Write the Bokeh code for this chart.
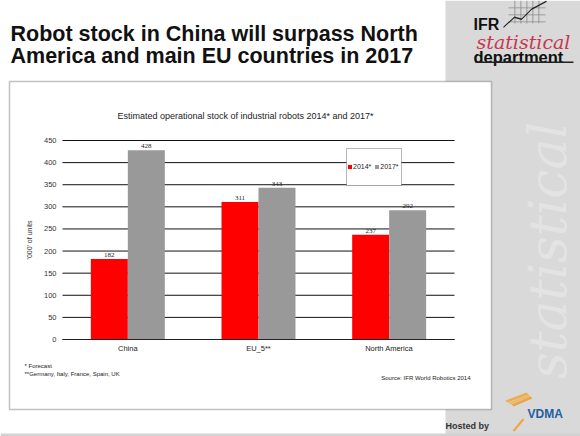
from bokeh.plotting import figure
from bokeh.models import (ColumnDataSource, FixedTicker, Label, LabelSet, LinearAxis,
                          BoxAnnotation, Legend, LegendItem, PolyAnnotation, Range1d)
from bokeh.embed import file_html
from bokeh.resources import INLINE
import math

# ---- data ----
categories = ["China", "EU_5**", "North America"]
stock_2014 = [182, 311, 237]
stock_2017 = [428, 343, 292]
y_ticks = [0, 50, 100, 150, 200, 250, 300, 350, 400, 450]
series_names = ["2014*", "2017*"]

FONT = "Liberation Sans"

# ---- page geometry (pixels) ----
W, H = 580, 436
PL, PR, PT, PB = 62, 454, 140, 339          # chart plotting area on the page
n = len(categories)
ymax = y_ticks[-1]
ppx = (PR - PL) / n                          # pixels per category
ppy = (PB - PT) / ymax                       # pixels per unit
x_range = Range1d(-PL / ppx, n + (W - PR) / ppx)
y_range = Range1d(-(H - PB) / ppy, ymax + PT / ppy)

BAR_W = 0.283
centers = [i + 0.5 for i in range(n)]
src = ColumnDataSource(dict(
    xc=centers,
    x14=[c - BAR_W / 2 for c in centers],
    x17=[c + BAR_W / 2 for c in centers],
    v14=stock_2014,
    v17=stock_2017,
    t14=[str(v) for v in stock_2014],
    t17=[str(v) for v in stock_2017],
))

p = figure(width=W, height=H, x_range=x_range, y_range=y_range,
           output_backend="svg", toolbar_location=None, x_axis_location=None,
           y_axis_location=None, min_border=0)
p.border_fill_color = "white"
p.background_fill_color = "white"
p.outline_line_color = None
p.xgrid.visible = False
p.ygrid.visible = False


def cbox(l, r, t, b, color, level="image", line_color=None, line_width=1, alpha=1):
    bx = BoxAnnotation(left=l, right=r, top=t, bottom=b,
                       left_units="canvas", right_units="canvas",
                       top_units="canvas", bottom_units="canvas",
                       fill_color=color, fill_alpha=alpha, line_color=line_color,
                       line_width=line_width, level=level)
    p.add_layout(bx)
    return bx


def canvas_label(text, x, y, size, align="left", baseline="middle", style="normal",
                 color="#222222", font=FONT, angle=0, level="annotation"):
    lab = Label(x=x, y=y, x_units="canvas", y_units="canvas", text=text, angle=angle,
                text_align=align, text_baseline=baseline, text_font=font,
                text_font_size=size, text_font_style=style, text_color=color, level=level)
    p.add_layout(lab)
    return lab


# ---- slide background ----
cbox(445, 580, 0, 436, "#d9d9d9")
cbox(0, 580, 433, 436, "#d2d2d2")
canvas_label("statistical", 547, 250, "52px", align="center", style="italic",
             color="#e3e3e3", font="DejaVu Serif", angle=math.pi / 2, level="image")
cbox(9, 491, 81, 409, "white", line_color="#333333", line_width=1.5)

# ---- grid lines ----
p.segment(x0=0, x1=n, y0=y_ticks, y1=y_ticks, line_color="#111111", line_width=1)

# ---- bars ----
r14 = p.vbar(x="x14", top="v14", width=BAR_W, source=src, fill_color="#ff0000",
             line_color=None)
r17 = p.vbar(x="x17", top="v17", width=BAR_W, source=src, fill_color="#999999",
             line_color=None)
p.add_layout(LabelSet(x="x14", y="v14", text="t14", source=src, y_offset=2,
                      text_align="center", text_baseline="bottom", text_font=FONT,
                      text_font_size="7px", text_color="#222222"))
p.add_layout(LabelSet(x="x17", y="v17", text="t17", source=src, y_offset=2,
                      text_align="center", text_baseline="bottom", text_font=FONT,
                      text_font_size="7px", text_color="#222222"))

# ---- axes (fixed inside the page) ----
yax = LinearAxis(fixed_location=0, bounds=(0, ymax), ticker=FixedTicker(ticks=y_ticks))
yax.axis_line_color = None
yax.major_tick_out = 0
yax.major_tick_in = 0
yax.minor_tick_out = 0
yax.minor_tick_in = 0
yax.major_label_standoff = 6
yax.major_label_text_font = FONT
yax.major_label_text_font_size = "7.5px"
yax.major_label_text_color = "#333333"
yax.axis_label = "'000' of units"
yax.axis_label_text_font = FONT
yax.axis_label_text_font_size = "7px"
yax.axis_label_text_font_style = "normal"
yax.axis_label_text_color = "#333333"
yax.axis_label_standoff = 8
p.add_layout(yax, "left")

xax = LinearAxis(fixed_location=0, bounds=(0, n), ticker=FixedTicker(ticks=centers),
                 major_label_overrides={c: lab for c, lab in zip(centers, categories)})
xax.axis_line_color = "#222222"
xax.axis_line_width = 1.2
xax.major_tick_out = 0
xax.major_tick_in = 0
xax.minor_tick_out = 0
xax.minor_tick_in = 0
xax.major_label_standoff = 4
xax.major_label_text_font = FONT
xax.major_label_text_font_size = "7.5px"
xax.major_label_text_color = "#222222"
p.add_layout(xax, "below")

# ---- legend ----
cbox(346, 401, 148, 185, "white", level="annotation", line_color="#111111")
legend = Legend(items=[LegendItem(label=series_names[0], renderers=[r14]),
                       LegendItem(label=series_names[1], renderers=[r17])],
                orientation="horizontal", location=(347, 266),
                padding=0, margin=0, spacing=3, label_standoff=1,
                glyph_width=5, glyph_height=5, label_height=8, label_width=10,
                label_text_font=FONT, label_text_font_size="7px",
                label_text_color="#222222",
                border_line_color=None, background_fill_alpha=0)
p.add_layout(legend)

# ---- texts ----
canvas_label("Robot stock in China will surpass North", 10, 33, "21.5px",
             baseline="alphabetic", style="bold", color="#111111")
canvas_label("America and main EU countries in 2017", 10, 55, "21.5px",
             baseline="alphabetic", style="bold", color="#111111")
canvas_label("Estimated operational stock of industrial robots 2014* and 2017*", 245, 115,
             "9px", align="center")
canvas_label("* Forecast", 24, 365, "6px")
canvas_label("**Germany, Italy, France, Spain, UK", 24, 373, "6px")
canvas_label("Source: IFR World Robotics 2014", 470, 377, "6px", align="right")

# ---- IFR logo ----
for gx in [514, 520, 526, 532, 538]:
    cbox(gx, gx + 0.8, 0, 23, "#8a8a8a", level="annotation")
for gy in [7, 14, 21]:
    cbox(508, 545, gy, gy + 0.8, "#8a8a8a", level="annotation")
p.add_layout(PolyAnnotation(xs=[503, 514, 521, 531, 546, 546, 531, 521, 514, 503],
                            ys=[26, 16, 18, 8, 0, 1.5, 9.5, 19.5, 17.5, 27.5],
                            xs_units="canvas", ys_units="canvas",
                            fill_color="#222222", fill_alpha=1, line_color=None))
canvas_label("IFR", 473, 24, "16px", baseline="alphabetic", style="bold", color="#111111")
canvas_label("statistical", 476, 41, "19px", baseline="alphabetic", style="italic",
             color="#c8374f", font="DejaVu Serif")
canvas_label("department", 473, 56, "16.5px", baseline="alphabetic", style="bold",
             color="#111111")
cbox(475, 573, 61, 62.5, "#222222", level="annotation")

# ---- hosted by / VDMA ----
canvas_label("Hosted by", 445, 425, "9px", style="bold", color="#333333")
canvas_label("VDMA", 527, 413, "12px", style="bold", color="#1f5f9e")
for i, c in enumerate(["#f0a030", "#f4b04a", "#e89a28"]):
    p.add_layout(PolyAnnotation(xs=[505 + 3 * i, 526 + 2 * i, 528 + 2 * i, 507 + 3 * i],
                                ys=[400 + 2 * i, 392 + 2 * i, 394 + 2 * i, 402 + 2 * i],
                                xs_units="canvas", ys_units="canvas",
                                fill_color=c, fill_alpha=0.8, line_color=None))
p.add_layout(PolyAnnotation(xs=[512, 522, 524, 514], ys=[430, 418, 419, 431],
                            xs_units="canvas", ys_units="canvas",
                            fill_color="#f0a030", fill_alpha=0.9, line_color=None))

open("out.html", "w").write(file_html(p, INLINE))
